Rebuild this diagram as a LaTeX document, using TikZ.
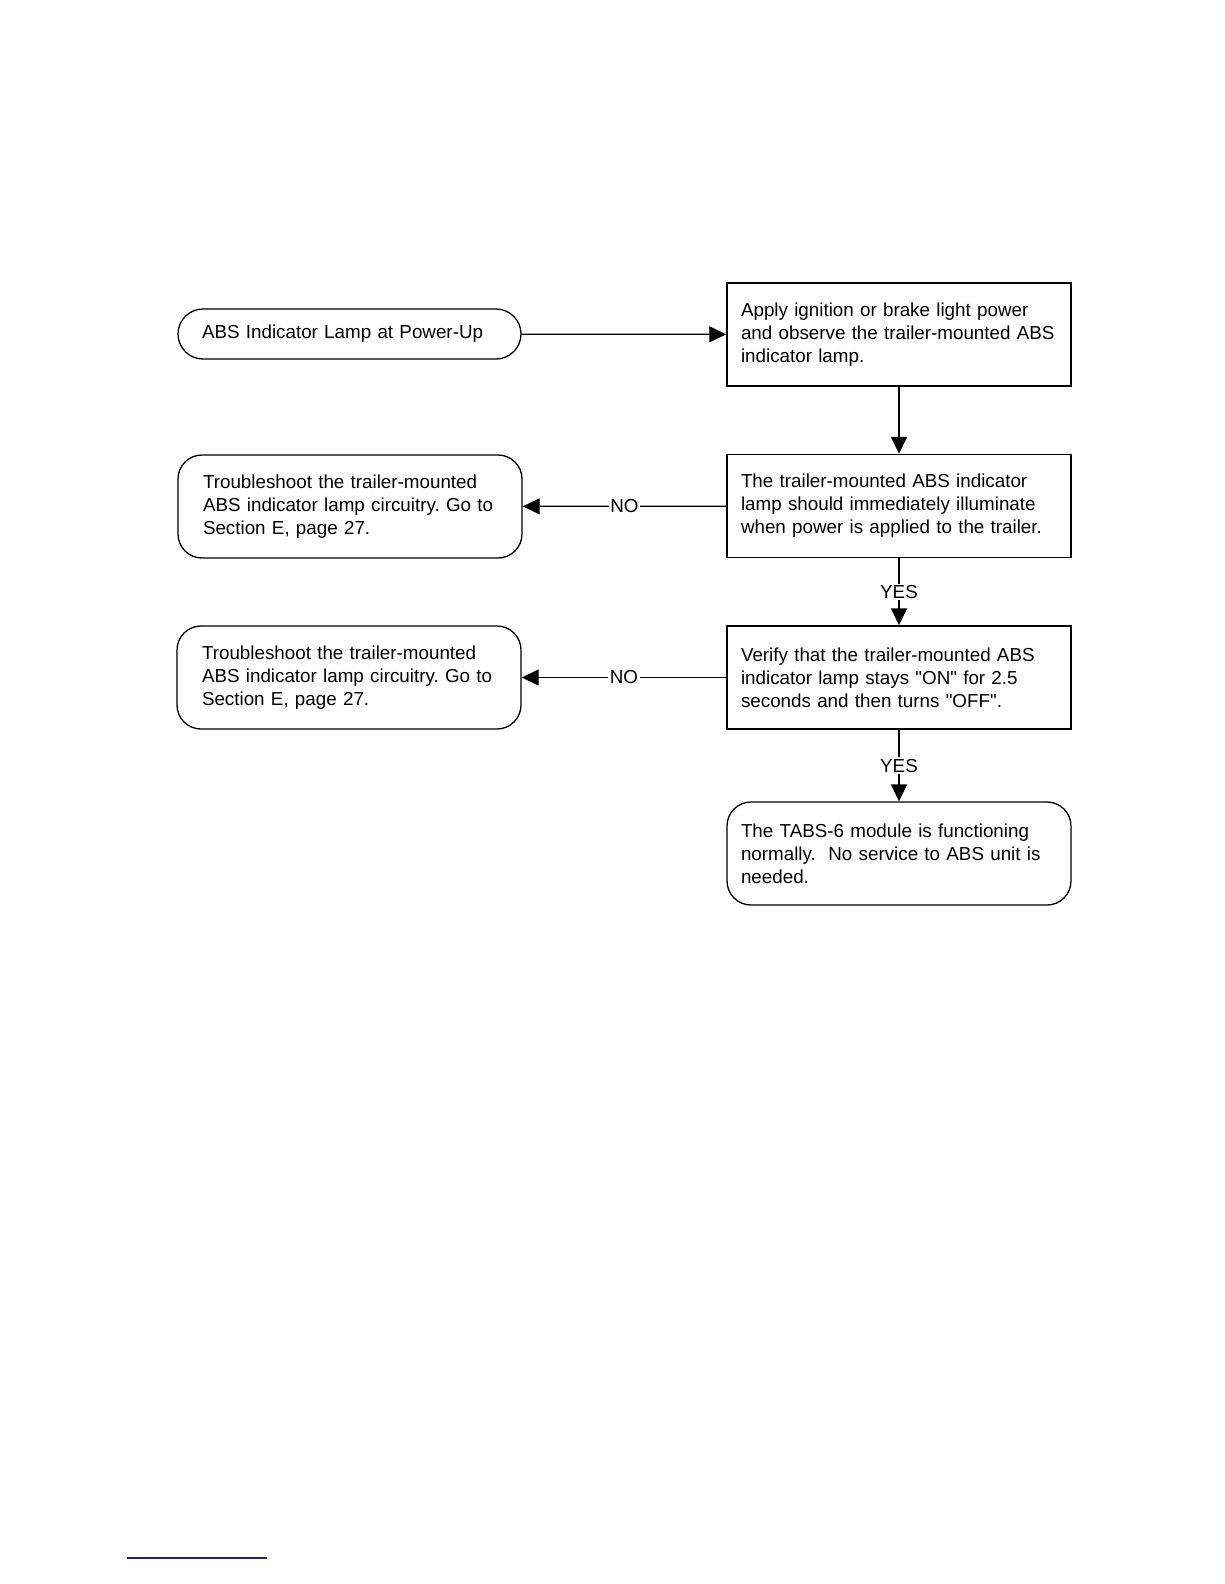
\documentclass[tikz,border=0pt]{standalone}
\usepackage{fontspec}
\setmainfont{Liberation Sans}
\newfontfamily\plainfont{Liberation Sans}
\usetikzlibrary{arrows.meta}
\definecolor{linkblue}{RGB}{30,30,140}
\newcommand{\sq}{{\plainfont"}}
\begin{document}
\frenchspacing
\begin{tikzpicture}[x=1pt,y=-1pt,
  every node/.style={font=\fontsize{18.8}{23}\selectfont},
  box/.style={draw, line width=1.5pt, minimum width=344pt, minimum height=103pt,
    text width=316pt, inner xsep=14pt, inner ysep=0pt, align=left},
  roundbox/.style={box, line width=1.3pt, rounded corners=24pt},
  sidebox/.style={roundbox, inner xsep=25pt, text width=294pt},
  pill/.style={draw, line width=1.3pt, rounded corners=25pt, minimum width=343pt, minimum height=50pt,
    text width=295pt, inner xsep=24pt, inner ysep=0pt, align=left},
  conn/.style={line width=1.2pt, -{Triangle[length=17pt,width=16pt]}},
  vconn/.style={conn, line width=1.8pt},
  lbl/.style={fill=white, inner sep=1.5pt}
]
\useasboundingbox (0,0) rectangle (1224,1584);

\node[pill] (start) at (349.5,334) {ABS Indicator Lamp at Power-Up};
\node[box] (b1) at (899,334.5) {Apply ignition or brake light power\\and observe the trailer-mounted ABS\\indicator lamp.};
\node[box] (b2) at (899,506) {The trailer-mounted ABS indicator\\lamp should immediately illuminate\\when power is applied to the trailer.};
\node[sidebox] (l1) at (350,506.5) {Troubleshoot the trailer-mounted\\ABS indicator lamp circuitry. Go to\\Section E, page 27.};
\node[box] (b3) at (899,677.5) {Verify that the trailer-mounted ABS\\indicator lamp stays \sq ON\sq{} for 2.5\\seconds and then turns \sq OFF\sq.};
\node[sidebox] (l2) at (349,677.5) {Troubleshoot the trailer-mounted\\ABS indicator lamp circuitry. Go to\\Section E, page 27.};
\node[roundbox] (end) at (899,853.5) {The TABS-6 module is functioning\\normally.\ \ No service to ABS unit is\\needed.};

\draw[conn] (start) -- (b1);
\draw[vconn] (b1) -- (b2);
\draw[conn] (b2) -- node[lbl] {NO} (l1);
\draw[vconn] (b2) -- node[lbl] {YES} (b3);
\draw[conn] (b3) -- node[lbl] {NO} (l2);
\draw[vconn] (b3) -- node[lbl] {YES} (end);

\draw[linkblue, line width=2pt] (127,1558) -- (267,1558);
\end{tikzpicture}
\end{document}
